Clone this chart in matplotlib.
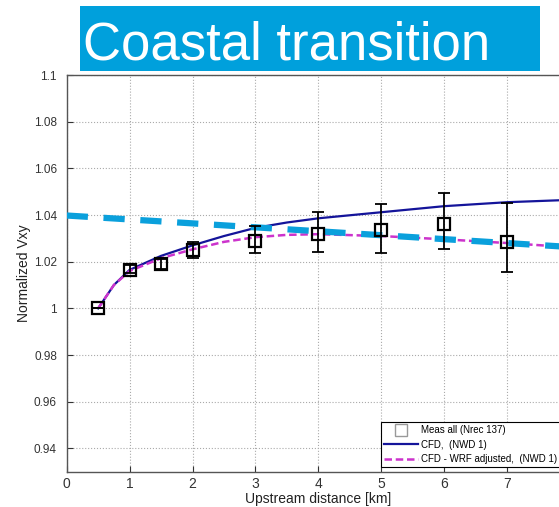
"""Coastal transition: normalized Vxy vs upstream distance."""

import matplotlib
matplotlib.use("Agg")
import matplotlib.pyplot as plt
import matplotlib.patches as patches

plt.rcParams["font.family"] = ["Liberation Sans", "DejaVu Sans"]

# measured points with error bars
meas_x = [0.5, 1, 1.5, 2, 3, 4, 5, 6, 7]
meas_y = [1.000, 1.0165, 1.019, 1.025, 1.029, 1.032, 1.0335, 1.036, 1.0285]
meas_lo = [1.000, 1.015, 1.017, 1.0215, 1.0236, 1.024, 1.0236, 1.0253, 1.0155]
meas_hi = [1.000, 1.0185, 1.021, 1.0285, 1.0352, 1.0412, 1.0446, 1.0494, 1.045]

# CFD (NWD 1)
cfd_x = [0.5, 0.75, 1, 1.5, 2, 2.5, 3, 3.5, 4, 5, 6, 7, 8]
cfd_y = [1.000, 1.010, 1.0165, 1.0225, 1.027, 1.031, 1.0345, 1.0368, 1.0386,
         1.0412, 1.0438, 1.0455, 1.0465]

# CFD - WRF adjusted (NWD 1)
wrf_x = [0.5, 0.75, 1, 1.5, 2, 2.5, 3, 3.5, 4, 5, 6, 7, 8]
wrf_y = [1.000, 1.010, 1.016, 1.0215, 1.0253, 1.0285, 1.0305, 1.0315, 1.0318,
         1.031, 1.0296, 1.028, 1.0262]

# overlaid trend line
trend_x = [0, 8]
trend_y = [1.0398, 1.0263]

fig = plt.figure(figsize=(5.59, 5.07), dpi=100)
ax = fig.add_axes([0.1193, 0.0696, 0.9003, 0.7824])

ax.plot(cfd_x, cfd_y, color="#14149a", lw=1.6, zorder=3, label="CFD,  (NWD 1)")
ax.plot(wrf_x, wrf_y, color="#cc33cc", lw=1.8, ls=(0, (3, 1.5)), zorder=3,
        label="CFD - WRF adjusted,  (NWD 1)")
ax.plot(trend_x, trend_y, color="#0aa0dc", lw=4.5, ls=(0, (3.4, 2.5)), zorder=4)

yerr = [[y - lo for y, lo in zip(meas_y, meas_lo)],
        [hi - y for y, hi in zip(meas_y, meas_hi)]]
ax.errorbar(meas_x, meas_y, yerr=yerr, fmt="none", ecolor="black",
            elinewidth=1.3, capsize=4, capthick=1.3, zorder=5)
ax.plot(meas_x, meas_y, ls="none", marker="s", ms=8, mfc="none", mec="black",
        mew=1.6, zorder=6)
ax.plot([], [], ls="none", marker="s", ms=8, mfc="none", mec="#999999",
        mew=1, label="Meas all (Nrec 137)")

ax.set_xlim(0, 8)
ax.set_ylim(0.93, 1.1)
ax.set_xticks(range(0, 9))
ax.set_yticks([0.94, 0.96, 0.98, 1.0, 1.02, 1.04, 1.06, 1.08, 1.1])
ax.set_yticklabels(["0.94", "0.96", "0.98", "1", "1.02", "1.04", "1.06",
                    "1.08", "1.1"])
ax.tick_params(direction="in", length=4, labelsize=8.5, colors="#333333",
               width=0.8)
ax.tick_params(axis="y", pad=7)
ax.tick_params(axis="x", labelsize=10, pad=3.5)
ax.grid(True, ls=":", color="#aaaaaa", lw=0.8)
for s in ax.spines.values():
    s.set_color("#555555")
    s.set_linewidth(1.0)
ax.set_xlabel("Upstream distance [km]", fontsize=10, color="#222222",
              labelpad=1)
ax.set_ylabel("Normalized Vxy", fontsize=10, color="#222222", labelpad=2)

handles, labels = ax.get_legend_handles_labels()
order = [2, 0, 1]
leg = ax.legend([handles[i] for i in order], [labels[i] for i in order],
                loc="lower right", fontsize=7, frameon=True, fancybox=False,
                edgecolor="black", framealpha=1, borderpad=0.3,
                handlelength=3.5, handletextpad=0.3, labelspacing=0.45,
                bbox_to_anchor=(0.99, 0.0))
leg.get_frame().set_linewidth(0.8)

# title banner
fig.patches.append(patches.Rectangle((80 / 559, 1 - 71 / 507), 460 / 559,
                                     65 / 507, transform=fig.transFigure,
                                     facecolor="#00a0dc", edgecolor="none"))
fig.text(83 / 559, 1 - 59 / 507, "Coastal transition", fontsize=38,
         color="white", va="baseline", ha="left")

fig.savefig("out.png", dpi=100)
